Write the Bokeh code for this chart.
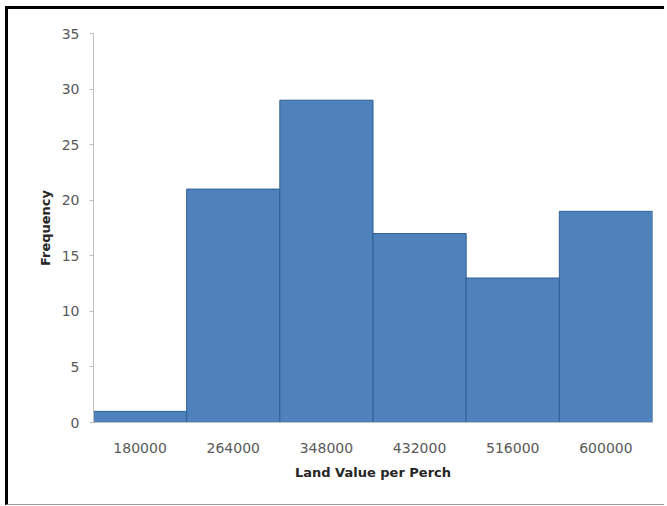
from bokeh.plotting import figure
from bokeh.models import FactorRange, Range1d, FixedTicker
from bokeh.embed import file_html
from bokeh.resources import INLINE

# Histogram of land value per perch
bins = ["180000", "264000", "348000", "432000", "516000", "600000"]
frequency = [1, 21, 29, 17, 13, 19]
y_ticks = [0, 5, 10, 15, 20, 25, 30, 35]

FONT = "DejaVu Sans"

p = figure(
    width=659, height=499,
    x_range=FactorRange(*bins, range_padding=0),
    y_range=Range1d(0, 35),
    output_backend="svg", toolbar_location=None,
    min_border_left=85, min_border_right=15,
    min_border_top=24, min_border_bottom=86,
)
# frame lines drawn around the whole chart
p.styles = {
    "margin-left": "5px",
    "margin-top": "6px",
    "border-left": "3px solid black",
    "border-top": "3px solid black",
    "border-bottom": "1px solid #9a9a9a",
}
p.outline_line_color = None
p.background_fill_color = "white"
p.border_fill_color = "white"
p.xgrid.visible = False
p.ygrid.visible = False

p.vbar(x=bins, top=frequency, width=1.0,
       fill_color="#4F81BD", line_color="#2F5F92", line_width=1)

# y axis
p.yaxis.ticker = FixedTicker(ticks=y_ticks)
p.yaxis.axis_line_color = "#BFBFBF"
p.yaxis.major_tick_line_color = "#BFBFBF"
p.yaxis.major_tick_in = 0
p.yaxis.major_tick_out = 4
p.yaxis.minor_tick_line_color = None
p.yaxis.major_label_standoff = 10
p.yaxis.major_label_text_font = FONT
p.yaxis.major_label_text_font_size = "14px"
p.yaxis.major_label_text_color = "#595959"
p.yaxis.axis_label = "Frequency"
p.yaxis.axis_label_text_font = FONT
p.yaxis.axis_label_text_font_style = "bold"
p.yaxis.axis_label_text_font_size = "13px"
p.yaxis.axis_label_text_color = "#262626"
p.yaxis.axis_label_standoff = 6

# x axis
p.xaxis.axis_line_color = "#BFBFBF"
p.xaxis.major_tick_line_color = None
p.xaxis.major_label_standoff = 14
p.xaxis.major_label_text_font = FONT
p.xaxis.major_label_text_font_size = "14px"
p.xaxis.major_label_text_color = "#595959"
p.xaxis.axis_label = "Land Value per Perch"
p.xaxis.axis_label_text_font = FONT
p.xaxis.axis_label_text_font_style = "bold"
p.xaxis.axis_label_text_font_size = "13px"
p.xaxis.axis_label_text_color = "#262626"
p.xaxis.axis_label_standoff = 9

open("out.html", "w").write(file_html(p, INLINE))
